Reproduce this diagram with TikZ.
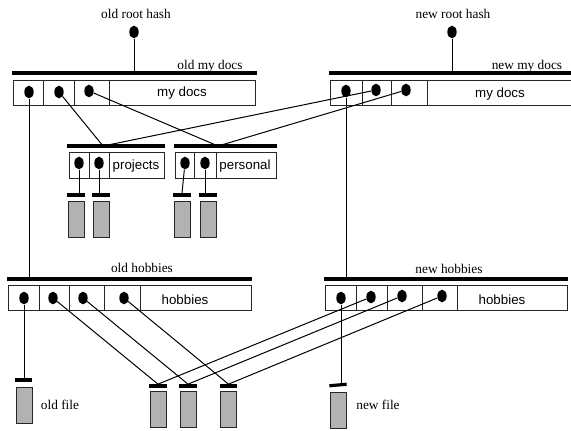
\documentclass[tikz,border=0pt]{standalone}
\usepackage{fontspec}
\setmainfont{Liberation Serif}
\setsansfont{Liberation Sans}
\usepackage{tikz}
\usetikzlibrary{shapes.geometric, calc}

\tikzset{
  dot/.style={ellipse, fill=black, inner sep=0pt, minimum width=7pt, minimum height=9.5pt},
  thickbar/.style={fill=black, inner sep=0pt, minimum height=2.4pt},
  stub/.style={fill=black, inner sep=0pt, minimum height=2.4pt, minimum width=13pt},
  cell/.style={draw=black!85, line width=0.5pt, inner sep=0pt, minimum height=18.5pt},
  block/.style={draw=black!85, line width=0.6pt, fill=black!30, inner sep=0pt, minimum width=12pt, minimum height=27pt},
  headtxt/.style={font=\fontsize{10}{12}\selectfont, inner sep=0pt},
  celltxt/.style={font=\sffamily\fontsize{10}{12}\selectfont, inner sep=0pt},
  link/.style={line width=0.75pt}
}

\begin{document}
\begin{tikzpicture}[x=0.75pt, y=-0.75pt]
\useasboundingbox (0,0) rectangle (571,430);

%% old my docs
\node[headtxt] (oldroottxt) at (136,14) {old root hash};
\node[dot] (oldroot) at (134,32) {};
\node[thickbar, minimum width=183.75pt] (olddocsbar) at (134.5,73) {};
\node[headtxt] (olddocstxt) at (210,66) {old my docs};
\node[cell, minimum width=22.5pt] (odc1) at (28,92.5) {};
\node[cell, minimum width=23.25pt] (odc2) at (58.5,92.5) {};
\node[cell, minimum width=26.25pt] (odc3) at (91.5,92.5) {};
\node[cell, minimum width=109.5pt] (odc4) at (182,92.5) {};
\node[celltxt] (olddocsname) at (182,93.5) {my docs};
\node[dot] (od1) at (29,92) {};
\node[dot] (od2) at (59,92) {};
\node[dot] (od3) at (89,91) {};

%% new my docs
\node[headtxt] (newroottxt) at (453,14) {new root hash};
\node[dot] (newroot) at (452,32) {};
\node[thickbar, minimum width=195.75pt] (newdocsbar) at (459.5,73) {};
\node[headtxt] (newdocstxt) at (527,66) {new my docs};
\node[cell, minimum width=24pt] (ndc1) at (346,92.5) {};
\node[cell, minimum width=21.75pt] (ndc2) at (376.5,92.5) {};
\node[cell, minimum width=27pt] (ndc3) at (409,92.5) {};
\node[cell, minimum width=122.25pt] (ndc4) at (508.5,92.5) {};
\node[celltxt] (newdocsname) at (500,94) {my docs};
\node[dot] (nd1) at (346,91) {};
\node[dot] (nd2) at (376,90) {};
\node[dot] (nd3) at (406,90) {};

%% projects
\node[thickbar, minimum width=73.5pt] (projbar) at (116,146) {};
\coordinate (projin) at (103,146);
\node[cell, minimum height=19.5pt, minimum width=15pt] (pjc1) at (79,165) {};
\node[cell, minimum height=19.5pt, minimum width=15pt] (pjc2) at (99,165) {};
\node[cell, minimum height=19.5pt, minimum width=41.25pt] (pjc3) at (136.5,165) {};
\node[celltxt] (projname) at (136,166) {projects};
\node[dot] (pj1) at (79,163) {};
\node[dot] (pj2) at (99,163) {};
\node[stub] (pjstub1) at (76,195) {};
\node[stub] (pjstub2) at (101,195) {};
\node[block] (pjfile1) at (76,219) {};
\node[block] (pjfile2) at (101.5,219) {};

%% personal
\node[thickbar, minimum width=77.25pt] (persbar) at (225.5,146) {};
\coordinate (persin) at (218,146);
\node[cell, minimum height=19.5pt, minimum width=14.25pt] (psc1) at (184.5,165) {};
\node[cell, minimum height=19.5pt, minimum width=16.5pt] (psc2) at (205,165) {};
\node[cell, minimum height=19.5pt, minimum width=45pt] (psc3) at (246,165) {};
\node[celltxt] (persname) at (245,166) {personal};
\node[dot] (ps1) at (185,163) {};
\node[dot] (ps2) at (205,163) {};
\node[stub] (psstub1) at (182,195) {};
\node[stub] (psstub2) at (208,195) {};
\node[block] (psfile1) at (182.5,219) {};
\node[block] (psfile2) at (208,219) {};

%% old hobbies
\node[headtxt] (oldhobtxt) at (142,268) {old hobbies};
\node[thickbar, minimum width=183.75pt] (oldhobbar) at (129.5,279) {};
\node[cell, minimum width=23.25pt] (ohc1) at (23.5,297.5) {};
\node[cell, minimum width=22.5pt] (ohc2) at (54,297.5) {};
\node[cell, minimum width=26.25pt] (ohc3) at (86.5,297.5) {};
\node[cell, minimum width=27pt] (ohc4) at (122,297.5) {};
\node[cell, minimum width=83.25pt] (ohc5) at (195.5,297.5) {};
\node[celltxt] (oldhobname) at (185,299.5) {hobbies};
\node[dot] (oh1) at (24,298) {};
\node[dot] (oh2) at (53,298) {};
\node[dot] (oh3) at (83,298) {};
\node[dot] (oh4) at (124,298) {};

%% new hobbies
\node[headtxt] (newhobtxt) at (449,269) {new hobbies};
\node[thickbar, minimum width=183pt] (newhobbar) at (446,279) {};
\node[cell, minimum width=23.25pt] (nhc1) at (340.5,297.5) {};
\node[cell, minimum width=23.25pt] (nhc2) at (371.5,297.5) {};
\node[cell, minimum width=26.25pt] (nhc3) at (404.5,297.5) {};
\node[cell, minimum width=26.25pt] (nhc4) at (439.5,297.5) {};
\node[cell, minimum width=82.5pt] (nhc5) at (512,297.5) {};
\node[celltxt] (newhobname) at (502,299.5) {hobbies};
\node[dot] (nh1) at (341,298) {};
\node[dot] (nh2) at (371,297) {};
\node[dot] (nh3) at (402,296) {};
\node[dot] (nh4) at (442,296) {};

%% files
\node[stub, minimum width=12.75pt] (oldfilestub) at (23.5,380) {};
\node[block] (oldfile) at (24,405) {};
\node[headtxt] (oldfiletxt) at (60,405) {old file};
\node[stub] (shstub1) at (158,386) {};
\node[stub] (shstub2) at (188,386) {};
\node[stub] (shstub3) at (228.5,386) {};
\node[block] (shfile1) at (158,409.5) {};
\node[block] (shfile2) at (188,409.5) {};
\node[block] (shfile3) at (228.5,409.5) {};
\node[stub, rotate=5] (newfilestub) at (338,385) {};
\node[block] (newfile) at (338,410) {};
\node[headtxt] (newfiletxt) at (378,405) {new file};

%% links
\draw[link] (oldroot) -- (oldroot |- olddocsbar);
\draw[link] (newroot) -- (newroot |- newdocsbar);
\draw[link] (od1) -- (od1 |- oldhobbar);
\draw[link] (nd1) -- (nd1 |- newhobbar);
\draw[link] (od2) -- (projin);
\draw[link] (od3) -- (persin);
\draw[link] (nd2) -- (projin);
\draw[link] (nd3) -- (persin);
\draw[link] (pj1) -- (pj1 |- pjstub1.north);
\draw[link] (pj2) -- (pj2 |- pjstub2.north);
\draw[link] (ps1) -- (psstub1.north);
\draw[link] (ps2) -- (ps2 |- psstub2.north);
\draw[link] (oh1) -- (oh1 |- oldfilestub.north);
\draw[link] (oh2) -- (shstub1.north);
\draw[link] (oh3) -- (shstub2.north);
\draw[link] (oh4) -- (shstub3.north);
\draw[link] (nh2) -- (shstub1.north);
\draw[link] (nh3) -- (shstub2.north);
\draw[link] (nh4) -- (shstub3.north);
\draw[link] (nh1) -- (nh1 |- newfilestub.north);

\end{tikzpicture}
\end{document}
